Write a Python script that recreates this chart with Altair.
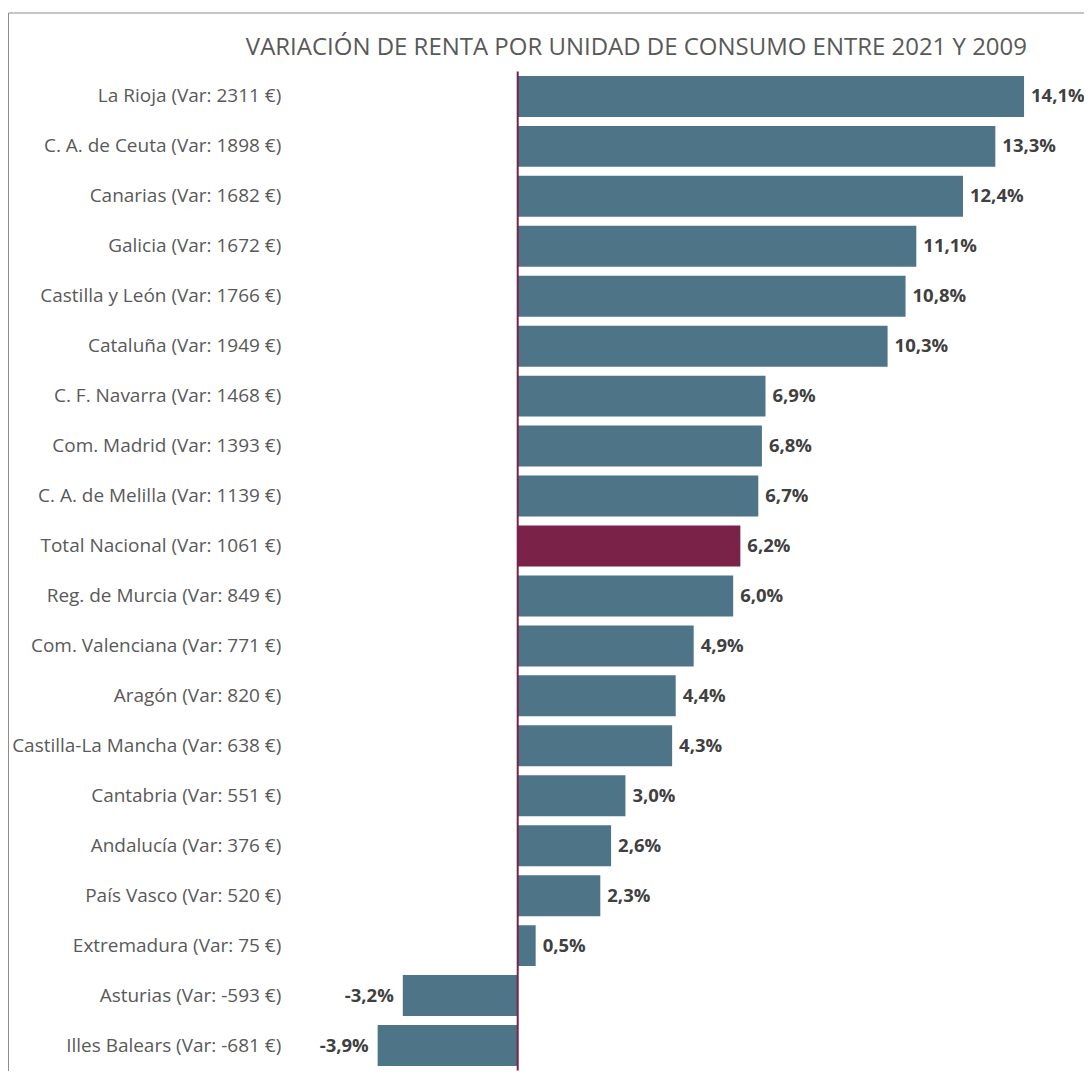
import altair as alt
import pandas as pd

regions = [
    "La Rioja", "C. A. de Ceuta", "Canarias", "Galicia", "Castilla y León",
    "Cataluña", "C. F. Navarra", "Com. Madrid", "C. A. de Melilla",
    "Total Nacional", "Reg. de Murcia", "Com. Valenciana", "Aragón",
    "Castilla-La Mancha", "Cantabria", "Andalucía", "País Vasco",
    "Extremadura", "Asturias", "Illes Balears",
]
var_eur = [2311, 1898, 1682, 1672, 1766, 1949, 1468, 1393, 1139, 1061,
           849, 771, 820, 638, 551, 376, 520, 75, -593, -681]
pct = [14.1, 13.3, 12.4, 11.1, 10.8, 10.3, 6.9, 6.8, 6.7, 6.2,
       6.0, 4.9, 4.4, 4.3, 3.0, 2.6, 2.3, 0.5, -3.2, -3.9]

TITLE = "VARIACIÓN DE RENTA POR UNIDAD DE CONSUMO ENTRE 2021 Y 2009"
FONT = "Open Sans"
BAR = "#4E7488"
HIGHLIGHT = "#7B2249"

labels = [f"{r} (Var: {v} €)" for r, v in zip(regions, var_eur)]
pct_text = [f"{p:.1f}".replace(".", ",") + "%" for p in pct]
df = pd.DataFrame({
    "label": labels,
    "pct": pct,
    "pct_text": pct_text,
    "highlight": [r == "Total Nacional" for r in regions],
})

x = alt.X("pct:Q", scale=alt.Scale(domain=[-3.9, 14.1], nice=False), axis=None)
y = alt.Y(
    "label:N", sort=labels,
    scale=alt.Scale(paddingInner=0.18, paddingOuter=0.09),
    axis=alt.Axis(title=None, domain=False, ticks=False, labelPadding=97,
                  labelFont=FONT, labelFontSize=19, labelColor="#595959",
                  labelLimit=400),
)

base = alt.Chart(df)
bars = base.mark_bar().encode(
    x=x, y=y,
    color=alt.condition("datum.highlight", alt.value(HIGHLIGHT), alt.value(BAR)),
)
pos_text = base.transform_filter("datum.pct >= 0").mark_text(
    align="left", baseline="middle", dx=7, font=FONT, fontSize=18.5,
    fontWeight="bold", color="#404040",
).encode(x=x, y=y, text="pct_text:N")
neg_text = base.transform_filter("datum.pct < 0").mark_text(
    align="right", baseline="middle", dx=-9, font=FONT, fontSize=18.5,
    fontWeight="bold", color="#404040",
).encode(x=x, y=y, text="pct_text:N")

zero = alt.Chart(pd.DataFrame({"pct": [0]})).mark_rule(
    color=HIGHLIGHT, strokeWidth=2
).encode(x=x)

frame_df = pd.DataFrame({"a": [0]})
left_border = alt.Chart(frame_df).mark_rule(color="#8c8c8c", strokeWidth=1).encode(
    x=alt.value(-369.5), y=alt.value(-58.5), y2=alt.value(1100)
)
top_border = alt.Chart(frame_df).mark_rule(color="#8c8c8c", strokeWidth=1).encode(
    x=alt.value(-369.5), x2=alt.value(800), y=alt.value(-58.5)
)
title = alt.Chart(pd.DataFrame({"t": [TITLE]})).mark_text(
    align="center", baseline="alphabetic", font=FONT, fontSize=24,
    color="#595959",
).encode(text="t:N", x=alt.value(259), y=alt.value(-16))

chart = alt.layer(left_border, top_border, title, bars, zero, pos_text, neg_text).properties(
    width=647, height=1000,
    autosize=alt.AutoSizeParams(type="none"),
    padding={"left": 370, "top": 63, "right": 60, "bottom": 0},
).configure_view(stroke=None)

chart.save("out.html", embed_options={"renderer": "svg", "actions": False})
